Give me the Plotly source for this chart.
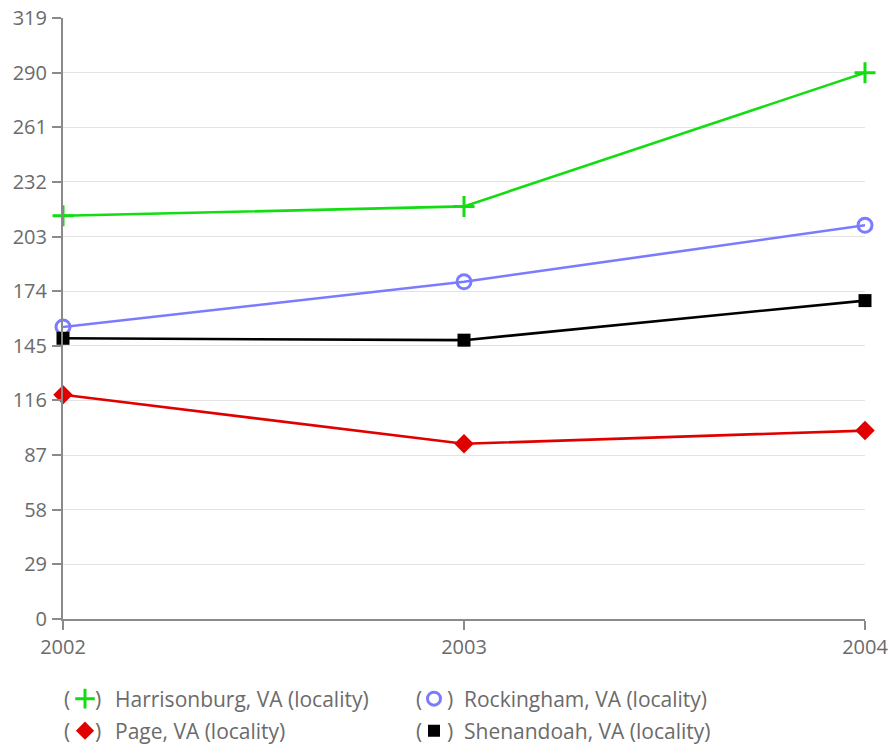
import plotly.graph_objects as go

years = [2002, 2003, 2004]
harrisonburg = [214, 219, 290]
rockingham = [155, 179, 209]
page = [119, 93, 100]
shenandoah = [149, 148, 169]
y_ticks = [0, 29, 58, 87, 116, 145, 174, 203, 232, 261, 290, 319]
y_tick_text = [str(v) for v in y_ticks]
x_tick_text = [str(v) for v in years]

series = [
    ("Harrisonburg, VA (locality)", harrisonburg, "#11dd11", "cross-thin", 15, "legend"),
    ("Rockingham, VA (locality)", rockingham, "#7b7bff", "circle-open", 14, "legend"),
    ("Page, VA (locality)", page, "#e00000", "diamond", 15, "legend2"),
    ("Shenandoah, VA (locality)", shenandoah, "#000000", "square", 13, "legend2"),
]

FONT = "Open Sans"
TICK_SIZE = 20
LEG_SIZE = 21
TXT = "#6b6b6b"

fig = go.Figure()
for name, vals, color, sym, size, leg in series:
    lw = 3 if sym in ("cross-thin", "circle-open") else 0
    fig.add_trace(go.Scatter(
        x=years, y=vals, mode="lines+markers", name=name, showlegend=False,
        line=dict(color=color, width=2.6),
        marker=dict(symbol=sym, size=size, color=color, line=dict(color=color, width=lw)),
        cliponaxis=False,
    ))
for name, vals, color, sym, size, leg in series:
    lw = 3 if sym in ("cross-thin", "circle-open") else 0
    fig.add_trace(go.Scatter(
        x=[None], y=[None], mode="markers", name=name, legend=leg,
        marker=dict(symbol=sym, size=size - 1, color=color, line=dict(color=color, width=lw)),
    ))

# body margin removed via post_script, so figure coords = screen coords
W, H = 892, 744
L, T = 63, 18
pw, ph = 802, 601
R, B = W - L - pw, H - T - ph

def px(xs):
    return (xs - L) / pw

def py(ys):
    return (T + ph - ys) / ph

ROW1, ROW2 = 699, 731

legend_common = dict(orientation="h", xanchor="left", yanchor="middle",
                     font=dict(family=FONT, size=LEG_SIZE, color=TXT),
                     itemwidth=50,
                     entrywidth=284, entrywidthmode="pixels",
                     bgcolor="rgba(0,0,0,0)", borderwidth=0, itemclick=False)

annotations = []
for xs, txt in ((66.5, "("), (98, ")"), (419, "("), (450, ")")):
    for ys in (ROW1, ROW2):
        annotations.append(dict(text=txt, x=px(xs), y=py(ys), xref="paper", yref="paper",
                                xanchor="center", yanchor="middle", showarrow=False,
                                font=dict(family=FONT, size=LEG_SIZE, color=TXT)))

axis_common = dict(zeroline=False, showline=True, linecolor="#8a8a8a", linewidth=2,
                   ticks="outside", ticklen=9, tickcolor="#8a8a8a", tickwidth=2,
                   automargin=False, ticklabeloverflow="allow",
                   tickfont=dict(family=FONT, size=TICK_SIZE, color=TXT))

fig.update_layout(
    width=W, height=H,
    margin=dict(l=L, r=R, t=T, b=B, autoexpand=False),
    paper_bgcolor="white", plot_bgcolor="white",
    font=dict(family=FONT, size=TICK_SIZE, color=TXT),
    legend=dict(x=px(55), y=py(ROW1), **legend_common),
    legend2=dict(x=px(55), y=py(ROW2), **legend_common),
    annotations=annotations,
    xaxis=dict(range=[2002, 2004], tickvals=years, ticktext=x_tick_text,
               showgrid=False, ticklabelstandoff=0, **axis_common),
    yaxis=dict(range=[0, 319], tickvals=y_ticks, ticktext=y_tick_text,
               showgrid=True, gridcolor="#e3e3e3", gridwidth=1, ticklabelstandoff=1,
               **axis_common),
)

fig.write_html("out.html",
               config={"displayModeBar": False},
               post_script="document.body.style.margin='0';document.body.style.overflow='hidden';")
